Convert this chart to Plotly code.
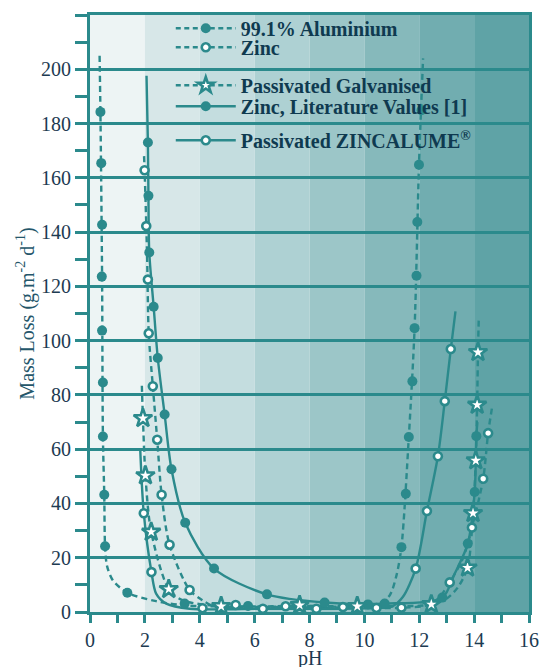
import plotly.graph_objects as go

TEAL = "#2b8a8c"
TXT = "#1d3b52"
FONT = "Liberation Serif"

# pH bands (background shading)
band_edges = [0, 2, 4, 6, 8, 10, 12, 14, 16]
band_colors = ["#edf4f4", "#d7e7e8", "#c4dddf", "#aed1d3",
               "#9cc6c8", "#86b9bb", "#71adb0", "#5fa3a6"]

# 99.1% Aluminium (data points and fitted curve)
al_ph = [0.38, 0.41, 0.44, 0.43, 0.44, 0.47, 0.47, 0.52, 0.55, 1.36, 3.45, 5.76, 10.13,
         11.35, 11.51, 11.62, 11.75, 11.83, 11.90, 11.93, 11.99, 12.08]
al_loss = [184.3, 165.4, 142.7, 123.6, 103.7, 84.6, 64.7, 43.2, 24.2, 7.1, 3.1, 2.2, 2.8,
           23.9, 43.6, 64.5, 85.0, 104.6, 123.9, 143.7, 164.8, 184.9]
al_curve_ph = [0.35, 0.38, 0.44, 0.47, 0.52, 0.55, 0.62, 0.83, 1.36, 2.41, 3.5, 6.0, 9.0,
               10.5, 10.92, 11.17, 11.35, 11.62, 11.83, 11.99, 12.14]
al_curve_loss = [205, 184, 124, 65, 43, 24, 17, 11.7, 7.1, 4.0, 2.4, 2.0, 2.0,
                 3.0, 6.1, 13.5, 23.9, 64.5, 104.6, 164.8, 204]

# Zinc
zn_ph = [1.99, 2.05, 2.11, 2.14, 2.29, 2.45, 2.61, 2.90, 3.63, 4.10, 5.31, 7.13, 9.22,
         11.35, 13.11, 13.92, 14.33, 14.51]
zn_loss = [162.8, 142.2, 122.5, 102.7, 83.2, 63.5, 43.2, 24.8, 8.1, 1.4, 2.6, 2.1, 1.8,
           1.6, 10.9, 31.1, 49.1, 65.9]
zn_curve_ph = [1.97, 1.99, 2.08, 2.14, 2.29, 2.45, 2.61, 2.90, 3.63, 4.1, 4.6, 6.0, 9.0,
               11.5, 12.3, 12.7, 13.11, 13.6, 13.92, 14.33, 14.51, 14.67]
zn_curve_loss = [168, 162.8, 132, 102.7, 83.2, 63.5, 43.2, 24.8, 8.1, 4.3, 1.8, 1.8, 1.6,
                 1.6, 2.5, 5.0, 10.9, 20.0, 31.1, 49.1, 65.9, 76.4]

# Passivated Galvanised
pg_ph = [1.93, 2.02, 2.23, 2.87, 4.78, 7.64, 9.74, 12.44, 13.76, 13.96, 14.06, 14.11, 14.14]
pg_loss = [71.4, 50.3, 29.5, 8.4, 2.1, 2.5, 2.1, 2.8, 16.3, 36.4, 55.8, 76.3, 95.7]
pg_curve_ph = [1.89, 1.93, 2.02, 2.23, 2.87, 3.38, 4.78, 7.64, 9.74, 12.0, 12.44, 13.0,
               13.4, 13.76, 13.96, 14.06, 14.11, 14.14, 14.17]
pg_curve_loss = [83.4, 71.4, 50.3, 29.5, 8.4, 4.3, 2.1, 2.3, 2.1, 2.3, 2.8, 5.0,
                 9.0, 16.3, 36.4, 55.8, 76.3, 95.7, 108.4]

# Zinc, Literature Values [1]
zl_ph = [2.11, 2.13, 2.16, 2.32, 2.47, 2.72, 2.97, 3.47, 4.52, 6.45, 8.55, 10.74,
         12.84, 13.77, 14.02, 14.08]
zl_loss = [173.0, 153.4, 132.5, 112.5, 93.6, 72.8, 52.6, 32.9, 16.0, 6.5, 3.5, 3.1,
           5.3, 25.2, 44.2, 64.8]
zl_curve_ph = [2.06, 2.11, 2.13, 2.16, 2.32, 2.47, 2.72, 2.97, 3.47, 4.52, 6.45, 8.55,
               10.74, 12.84, 13.29, 13.77, 14.02, 14.08, 14.12]
zl_curve_loss = [197.6, 173.0, 153.4, 132.5, 112.5, 93.6, 72.8, 52.6, 32.9, 16.0, 6.5, 3.5,
                 3.1, 5.3, 14.1, 25.2, 44.2, 64.8, 70.0]

# Passivated ZINCALUME
za_ph = [1.96, 2.24, 6.30, 8.25, 10.44, 11.87, 12.28, 12.68, 12.93, 13.15]
za_loss = [36.4, 14.7, 1.2, 1.2, 1.5, 16.0, 37.2, 57.4, 77.7, 96.9]
za_curve_ph = [1.83, 1.96, 2.24, 2.41, 2.78, 3.63, 6.3, 8.25, 10.44, 11.0, 11.4, 11.87,
               12.28, 12.68, 12.93, 13.15, 13.32]
za_curve_loss = [60.1, 36.4, 14.7, 6.8, 3.1, 1.2, 1.2, 1.2, 1.5, 2.0, 5.5, 16.0,
                 37.2, 57.4, 77.7, 96.9, 110.8]

names = ["99.1% Aluminium", "Zinc", "Passivated Galvanised",
         "Zinc, Literature Values [1]", "Passivated ZINCALUME<sup>®</sup>"]
legend_rows_px = [28, 47, 85, 106, 140]

DASH = "6px,4px"
filled = dict(symbol="circle", size=10, color=TEAL, line=dict(width=0))
opened = dict(symbol="circle", size=8, color="white", line=dict(width=2.6, color=TEAL))
star = dict(symbol="star", size=14, color="white", line=dict(width=2.6, color=TEAL))

series = [
    (al_ph, al_loss, al_curve_ph, al_curve_loss, DASH, filled),
    (zn_ph, zn_loss, zn_curve_ph, zn_curve_loss, DASH, opened),
    (pg_ph, pg_loss, pg_curve_ph, pg_curve_loss, DASH, star),
    (zl_ph, zl_loss, zl_curve_ph, zl_curve_loss, "solid", filled),
    (za_ph, za_loss, za_curve_ph, za_curve_loss, "solid", opened),
]

fig = go.Figure()

# curves
for (px, py, cx, cy, dash, mk) in series:
    fig.add_trace(go.Scatter(x=cx, y=cy, mode="lines", showlegend=False, hoverinfo="skip",
                             line=dict(color=TEAL, width=2.4, dash=dash, shape="spline",
                                       smoothing=0.8)))
# markers
for (px, py, cx, cy, dash, mk) in series:
    fig.add_trace(go.Scatter(x=px, y=py, mode="markers", showlegend=False, marker=mk))

# legend entries
for i, ((px, py, cx, cy, dash, mk), name) in enumerate(zip(series, names)):
    lg = "legend" if i == 0 else f"legend{i+1}"
    lmk = dict(mk)
    if mk is star:
        lmk = dict(star, size=12)
    fig.add_trace(go.Scatter(x=[None], y=[None], mode="lines+markers", name=name, legend=lg,
                             line=dict(color=TEAL, width=2.4,
                                       dash="5px,3.5px" if dash != "solid" else "solid"),
                             marker=lmk))

shapes = []
for x0, x1, c in zip(band_edges[:-1], band_edges[1:], band_colors):
    shapes.append(dict(type="rect", xref="x", yref="paper", x0=x0, x1=x1, y0=0, y1=1,
                       fillcolor=c, line=dict(width=0), layer="below"))

H_TOP, H_BOT = 14.7, 611.7
layout_legends = {}
for i, py in enumerate(legend_rows_px):
    key = "legend" if i == 0 else f"legend{i+1}"
    layout_legends[key] = dict(
        x=0.184, xanchor="left", y=(H_BOT - py) / (H_BOT - H_TOP), yanchor="middle",
        bgcolor="rgba(0,0,0,0)", borderwidth=0, itemwidth=60,
        font=dict(family=FONT, size=20, color="#0f3a50", weight="bold"),
    )

fig.update_layout(
    width=533, height=659,
    margin=dict(l=82, r=12, t=7, b=55, autoexpand=False),
    paper_bgcolor="white", plot_bgcolor="white",
    shapes=shapes,
    showlegend=True,
    xaxis=dict(range=[0, 16], dtick=2, tick0=0, ticks="outside", ticklen=8, tickwidth=2.5,
               tickcolor=TEAL, showline=True, linecolor=TEAL, linewidth=3, mirror=True,
               showgrid=False, zeroline=False,
               minor=dict(dtick=1, ticks="outside", ticklen=8, tickwidth=2.5, tickcolor=TEAL),
               tickfont=dict(family=FONT, size=20, color=TXT)),
    yaxis=dict(range=[0, 220], dtick=20, tick0=0, ticks="outside", ticklen=12, tickwidth=2.5,
               tickcolor=TEAL, showline=True, linecolor=TEAL, linewidth=3, mirror=True,
               showgrid=True, gridcolor=TEAL, gridwidth=2.5, zeroline=False,
               minor=dict(dtick=10, ticks="outside", ticklen=12, tickwidth=2.5, tickcolor=TEAL),
               tickfont=dict(family=FONT, size=20, color=TXT),
               title=dict(text="Mass Loss (g.m<sup>-2</sup> d<sup>-1</sup>)",
                          font=dict(family=FONT, size=20, color="#24566a"), standoff=2)),
    annotations=[dict(text="pH", xref="paper", yref="paper", x=0.5, y=0,
                      xanchor="center", yanchor="top", yshift=-33, showarrow=False,
                      font=dict(family=FONT, size=20, color=TXT))],
    **layout_legends,
)

fig.write_html("out.html")
